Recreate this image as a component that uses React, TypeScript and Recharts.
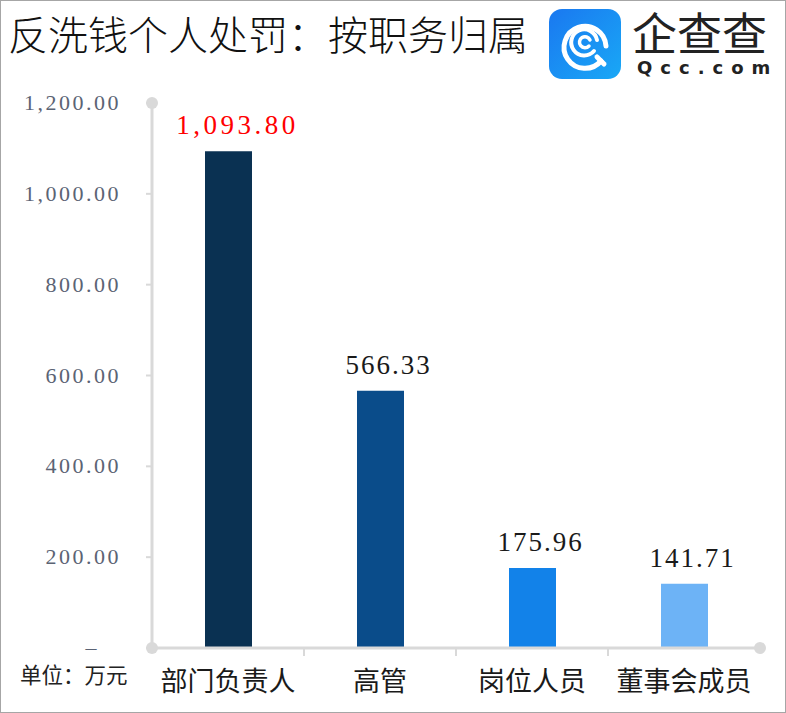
import React from "react";
import { BarChart, Bar, XAxis, YAxis, Cell, LabelList, usePlotArea } from "recharts";

const categories = ["部门负责人", "高管", "岗位人员", "董事会成员"];
const penalties = [1093.8, 566.33, 175.96, 141.71];
const yTicks = [0, 200, 400, 600, 800, 1000, 1200];

const barColors = ["#0A3152", "#0A4C8A", "#1282E9", "#6DB3F6"];
const labelColors = ["#FF0000", "#1a1a1a", "#1a1a1a", "#1a1a1a"];

const W = 786;
const H = 713;
const AXIS_GREY = "#d9d9d9";
const NUM_FONT = "'Liberation Serif', 'Noto Sans CJK SC', serif";
const CJK_FONT = "'Noto Sans CJK SC', sans-serif";

const data = categories.map((name, i) => ({ name, value: penalties[i] }));

const fmt = (n: number) =>
  n.toLocaleString("en-US", { minimumFractionDigits: 2, maximumFractionDigits: 2 });

function YTick(props: any) {
  const { x, y, payload } = props;
  const zero = payload.value === 0;
  return (
    <text
      x={x}
      y={y}
      dx={zero ? -22 : 0}
      dy={7}
      textAnchor="end"
      fill="#5B6374"
      fontSize={22}
      letterSpacing={2.5}
      fontFamily={NUM_FONT}
    >
      {zero ? "–" : fmt(payload.value)}
    </text>
  );
}

function XTick(props: any) {
  const { x, y, payload } = props;
  return (
    <text x={x} y={y} dy={43} textAnchor="middle" fill="#1a1a1a" fontSize={27} fontFamily={CJK_FONT}>
      {payload.value}
    </text>
  );
}

function BarLabel(props: any) {
  const { x, y, width, value, index } = props;
  const first = index === 0;
  return (
    <text
      x={Number(x) + Number(width) / 2}
      y={Number(y) - 17}
      dx={first ? 9 : 8}
      textAnchor="middle"
      fill={labelColors[index] ?? "#1a1a1a"}
      fontSize={27}
      letterSpacing={first ? 3.5 : 2}
      fontFamily={NUM_FONT}
    >
      {fmt(Number(value))}
    </text>
  );
}

// axis end dots and ticks between categories
function AxisDecor() {
  const area = usePlotArea();
  if (!area) return null;
  const { x, y, width, height } = area;
  const bottom = y + height;
  const band = width / categories.length;
  return (
    <g>
      {categories.slice(1).map((c, i) => (
        <line
          key={c}
          x1={x + band * (i + 1)}
          x2={x + band * (i + 1)}
          y1={bottom}
          y2={bottom + 8}
          stroke={AXIS_GREY}
          strokeWidth={2}
        />
      ))}
      <circle cx={x} cy={y} r={6} fill={AXIS_GREY} />
      <circle cx={x} cy={bottom} r={6} fill={AXIS_GREY} />
      <circle cx={x + width} cy={bottom} r={6} fill={AXIS_GREY} />
    </g>
  );
}

function Logo() {
  return (
    <div style={{ position: "absolute", left: 548, top: 8, width: 236, height: 72 }}>
      <svg width={72} height={70} style={{ position: "absolute", left: 0, top: 0 }}>
        <defs>
          <linearGradient id="lg" x1="0" y1="0" x2="1" y2="1">
            <stop offset="0%" stopColor="#1a78f0" />
            <stop offset="100%" stopColor="#19a8f6" />
          </linearGradient>
        </defs>
        <rect x={0} y={0} width={72} height={70} rx={13} fill="url(#lg)" />
        <g fill="none" stroke="#fff" strokeLinecap="round">
          <path d="M 52 52 A 21 21 0 1 1 57 37" strokeWidth={5} />
          <path d="M 48 48 L 55 55" strokeWidth={5} />
          <path d="M 45 42 A 13 13 0 1 1 48 31" strokeWidth={4} />
          <path d="M 40 37 A 5.5 5.5 0 1 1 41 31" strokeWidth={3.5} />
        </g>
      </svg>
      <div
        style={{
          position: "absolute",
          left: 83,
          top: 1,
          fontFamily: CJK_FONT,
          fontSize: 45,
          color: "#222",
          lineHeight: "44px",
          whiteSpace: "nowrap",
        }}
      >
        企查查
      </div>
      <div
        style={{
          position: "absolute",
          left: 88,
          top: 50,
          fontFamily: "'DejaVu Sans', sans-serif",
          fontSize: 18,
          fontWeight: 700,
          color: "#222",
          lineHeight: "18px",
          letterSpacing: 8,
          whiteSpace: "nowrap",
        }}
      >
        Qcc.com
      </div>
    </div>
  );
}

export default function App() {
  return (
    <div
      style={{
        position: "absolute",
        left: 0,
        top: 0,
        width: W,
        height: H,
        background: "#fff",
        border: "1px solid #a6a6a6",
        boxSizing: "border-box",
        overflow: "hidden",
      }}
    >
      <div
        style={{
          position: "absolute",
          left: 7,
          top: 8,
          fontFamily: CJK_FONT,
          fontSize: 40,
          fontWeight: 300,
          color: "#111",
          lineHeight: "48px",
          whiteSpace: "nowrap",
        }}
      >
        反洗钱个人处罚：按职务归属
      </div>
      <Logo />
      <div style={{ position: "absolute", left: -1, top: -1 }}>
        <BarChart width={W} height={H} data={data} margin={{ top: 103, right: 26, bottom: 0, left: 0 }}>
          <YAxis
            width={152}
            domain={[0, 1200]}
            ticks={yTicks}
            interval={0}
            axisLine={{ stroke: AXIS_GREY, strokeWidth: 3 }}
            tickLine={{ stroke: AXIS_GREY, strokeWidth: 2 }}
            tickSize={6}
            tickMargin={25}
            tick={<YTick />}
          />
          <XAxis
            dataKey="name"
            height={65}
            axisLine={{ stroke: AXIS_GREY, strokeWidth: 3 }}
            tickLine={false}
            tickSize={0}
            tickMargin={0}
            interval={0}
            tick={<XTick />}
          />
          <Bar dataKey="value" barSize={47} isAnimationActive={false}>
            {data.map((d, i) => (
              <Cell key={d.name} fill={barColors[i]} />
            ))}
            <LabelList dataKey="value" content={<BarLabel />} />
          </Bar>
          <AxisDecor />
        </BarChart>
      </div>
      <div
        style={{
          position: "absolute",
          left: 19,
          top: 659,
          fontFamily: CJK_FONT,
          fontSize: 21.5,
          color: "#222",
          lineHeight: "28px",
          whiteSpace: "nowrap",
        }}
      >
        单位：万元
      </div>
    </div>
  );
}
